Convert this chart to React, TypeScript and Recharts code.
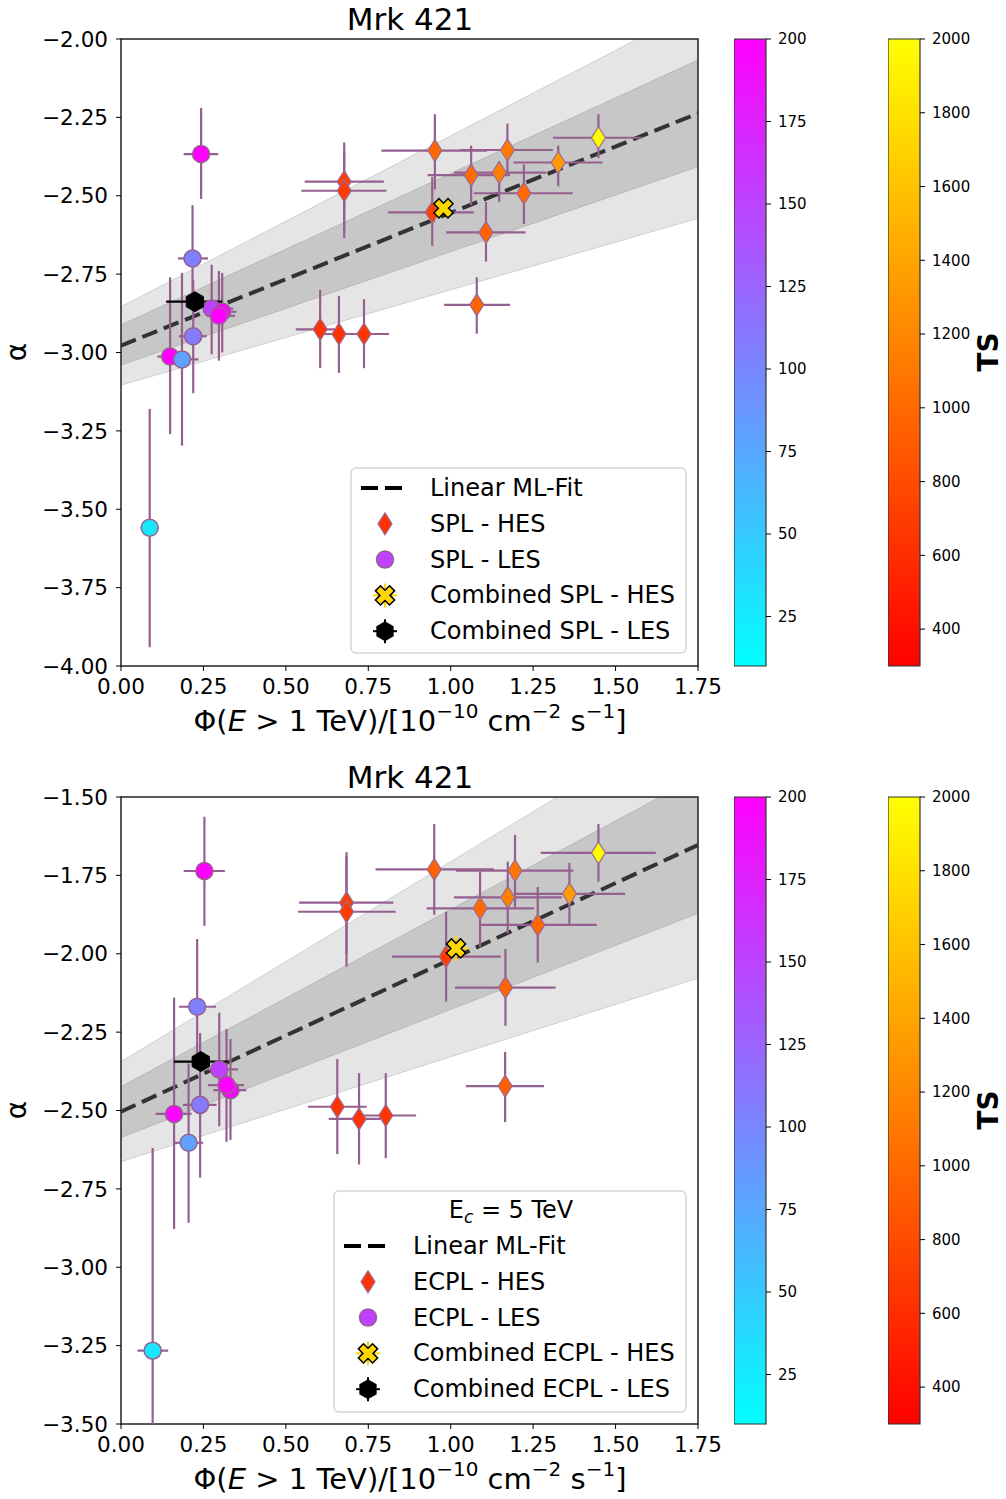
import React from "react";
import { ComposedChart, Scatter, ErrorBar, XAxis, YAxis, Area, Line, ReferenceArea } from "recharts";

const FONT = "DejaVu Sans";
const ERR = "#95608f";

const xTicks = [0, 0.25, 0.5, 0.75, 1, 1.25, 1.5, 1.75];
const splYTicks = [-4, -3.75, -3.5, -3.25, -3, -2.75, -2.5, -2.25, -2];
const ecplYTicks = [-3.5, -3.25, -3, -2.75, -2.5, -2.25, -2, -1.75, -1.5];
const lesTicks = [25, 50, 75, 100, 125, 150, 175, 200];
const hesTicks = [400, 600, 800, 1000, 1200, 1400, 1600, 1800, 2000];

// fit line and bands, values at x = 0 and x = 1.75
const fitX = [0, 1.75];
const splFit = [-2.978, -2.237];
const splBand1 = [[-3.04, -2.912], [-2.407, -2.067]];
const splBand2 = [[-3.104, -2.854], [-2.572, -1.9]];
const ecplFit = [-2.504, -1.653];
const ecplBand1 = [[-2.586, -2.424], [-1.871, -1.435]];
const ecplBand2 = [[-2.663, -2.344], [-2.078, -1.228]];

const splHes = [
  { x: 0.677, y: -2.455, xLo: 0.557, xHi: 0.797, yLo: -2.61, yHi: -2.33, ts: 720 },
  { x: 0.677, y: -2.484, xLo: 0.547, xHi: 0.805, yLo: -2.635, yHi: -2.36, ts: 700 },
  { x: 0.952, y: -2.356, xLo: 0.79, xHi: 1.11, yLo: -2.48, yHi: -2.24, ts: 990 },
  { x: 0.944, y: -2.553, xLo: 0.81, xHi: 1.07, yLo: -2.66, yHi: -2.44, ts: 730 },
  { x: 1.062, y: -2.434, xLo: 0.93, xHi: 1.18, yLo: -2.53, yHi: -2.34, ts: 1010 },
  { x: 1.147, y: -2.426, xLo: 1.01, xHi: 1.29, yLo: -2.52, yHi: -2.39, ts: 1150 },
  { x: 1.172, y: -2.354, xLo: 1.03, xHi: 1.31, yLo: -2.43, yHi: -2.27, ts: 1120 },
  { x: 1.222, y: -2.492, xLo: 1.07, xHi: 1.37, yLo: -2.59, yHi: -2.4, ts: 990 },
  { x: 1.107, y: -2.617, xLo: 0.986, xHi: 1.227, yLo: -2.71, yHi: -2.52, ts: 960 },
  { x: 1.326, y: -2.394, xLo: 1.19, xHi: 1.46, yLo: -2.47, yHi: -2.34, ts: 1330 },
  { x: 1.448, y: -2.315, xLo: 1.31, xHi: 1.58, yLo: -2.38, yHi: -2.24, ts: 1980 },
  { x: 1.079, y: -2.848, xLo: 0.98, xHi: 1.18, yLo: -2.94, yHi: -2.76, ts: 950 },
  { x: 0.604, y: -2.926, xLo: 0.53, xHi: 0.65, yLo: -3.05, yHi: -2.8, ts: 640 },
  { x: 0.661, y: -2.941, xLo: 0.6, xHi: 0.73, yLo: -3.065, yHi: -2.82, ts: 630 },
  { x: 0.737, y: -2.941, xLo: 0.66, xHi: 0.813, yLo: -3.05, yHi: -2.83, ts: 650 },
];

const splLes = [
  { x: 0.243, y: -2.367, xLo: 0.19, xHi: 0.295, yLo: -2.51, yHi: -2.22, ts: 200 },
  { x: 0.217, y: -2.7, xLo: 0.173, xHi: 0.264, yLo: -2.84, yHi: -2.53, ts: 105 },
  { x: 0.275, y: -2.86, xLo: 0.255, xHi: 0.34, yLo: -3.006, yHi: -2.72, ts: 152 },
  { x: 0.307, y: -2.87, xLo: 0.28, xHi: 0.35, yLo: -3.0, yHi: -2.746, ts: 195 },
  { x: 0.297, y: -2.883, xLo: 0.27, xHi: 0.346, yLo: -3.026, yHi: -2.74, ts: 200 },
  { x: 0.219, y: -2.948, xLo: 0.176, xHi: 0.26, yLo: -3.13, yHi: -2.77, ts: 108 },
  { x: 0.149, y: -3.013, xLo: 0.11, xHi: 0.18, yLo: -3.26, yHi: -2.76, ts: 200 },
  { x: 0.185, y: -3.022, xLo: 0.168, xHi: 0.235, yLo: -3.297, yHi: -2.746, ts: 80 },
  { x: 0.087, y: -3.559, xLo: 0.06, xHi: 0.115, yLo: -3.94, yHi: -3.18, ts: 28 },
];

const splCombHes = [{ x: 0.978, y: -2.54, xLo: 0.968, xHi: 0.988, yLo: -2.555, yHi: -2.525 }];
const splCombLes = [{ x: 0.224, y: -2.838, xLo: 0.137, xHi: 0.307, yLo: -2.85, yHi: -2.826 }];

const ecplHes = [
  { x: 0.684, y: -1.837, xLo: 0.54, xHi: 0.826, yLo: -2.0, yHi: -1.69, ts: 720 },
  { x: 0.684, y: -1.866, xLo: 0.537, xHi: 0.833, yLo: -2.041, yHi: -1.676, ts: 700 },
  { x: 0.95, y: -1.731, xLo: 0.772, xHi: 1.131, yLo: -1.876, yHi: -1.586, ts: 950 },
  { x: 0.986, y: -2.009, xLo: 0.822, xHi: 1.152, yLo: -2.153, yHi: -1.866, ts: 720 },
  { x: 1.089, y: -1.855, xLo: 0.927, xHi: 1.253, yLo: -1.978, yHi: -1.733, ts: 1000 },
  { x: 1.173, y: -1.82, xLo: 1.01, xHi: 1.337, yLo: -1.935, yHi: -1.706, ts: 1160 },
  { x: 1.195, y: -1.735, xLo: 1.016, xHi: 1.372, yLo: -1.852, yHi: -1.621, ts: 1080 },
  { x: 1.264, y: -1.908, xLo: 1.086, xHi: 1.443, yLo: -2.028, yHi: -1.787, ts: 980 },
  { x: 1.36, y: -1.809, xLo: 1.195, xHi: 1.529, yLo: -1.911, yHi: -1.71, ts: 1340 },
  { x: 1.448, y: -1.678, xLo: 1.273, xHi: 1.622, yLo: -1.77, yHi: -1.586, ts: 1990 },
  { x: 1.166, y: -2.108, xLo: 1.013, xHi: 1.318, yLo: -2.23, yHi: -1.985, ts: 970 },
  { x: 1.165, y: -2.422, xLo: 1.046, xHi: 1.283, yLo: -2.537, yHi: -2.313, ts: 930 },
  { x: 0.656, y: -2.488, xLo: 0.567, xHi: 0.745, yLo: -2.639, yHi: -2.336, ts: 640 },
  { x: 0.722, y: -2.527, xLo: 0.63, xHi: 0.79, yLo: -2.672, yHi: -2.381, ts: 630 },
  { x: 0.803, y: -2.516, xLo: 0.72, xHi: 0.895, yLo: -2.652, yHi: -2.381, ts: 650 },
];

const ecplLes = [
  { x: 0.253, y: -1.736, xLo: 0.19, xHi: 0.315, yLo: -1.911, yHi: -1.563, ts: 200 },
  { x: 0.231, y: -2.169, xLo: 0.176, xHi: 0.288, yLo: -2.35, yHi: -1.953, ts: 105 },
  { x: 0.298, y: -2.369, xLo: 0.265, xHi: 0.355, yLo: -2.55, yHi: -2.188, ts: 152 },
  { x: 0.332, y: -2.435, xLo: 0.28, xHi: 0.38, yLo: -2.594, yHi: -2.272, ts: 195 },
  { x: 0.32, y: -2.419, xLo: 0.264, xHi: 0.373, yLo: -2.6, yHi: -2.24, ts: 200 },
  { x: 0.161, y: -2.511, xLo: 0.105, xHi: 0.214, yLo: -2.878, yHi: -2.14, ts: 195 },
  { x: 0.205, y: -2.603, xLo: 0.161, xHi: 0.249, yLo: -2.858, yHi: -2.35, ts: 80 },
  { x: 0.24, y: -2.482, xLo: 0.188, xHi: 0.29, yLo: -2.714, yHi: -2.253, ts: 108 },
  { x: 0.096, y: -3.266, xLo: 0.05, xHi: 0.143, yLo: -3.5, yHi: -2.62, ts: 28 },
];

const ecplCombHes = [{ x: 1.016, y: -1.983, xLo: 0.978, xHi: 1.054, yLo: -2.023, yHi: -1.943 }];
const ecplCombLes = [{ x: 0.242, y: -2.344, xLo: 0.161, xHi: 0.324, yLo: -2.36, yHi: -2.328 }];

// colormaps (matplotlib cool / autumn)
const LES_MIN = 10, LES_MAX = 200, HES_MIN = 300, HES_MAX = 2000;
const clamp = (t: number) => Math.max(0, Math.min(1, t));
const cool = (v: number) => {
  const t = clamp((v - LES_MIN) / (LES_MAX - LES_MIN));
  return `rgb(${Math.round(255 * t)},${Math.round(255 * (1 - t))},255)`;
};
const autumn = (v: number) => {
  const t = clamp((v - HES_MIN) / (HES_MAX - HES_MIN));
  return `rgb(255,${Math.round(255 * t)},0)`;
};

const toRows = (pts: any[]) =>
  pts.map((p) => ({ ...p, ex: [p.x - p.xLo, p.xHi - p.x], ey: [p.y - p.yLo, p.yHi - p.y] }));

const fmt = (v: number) => v.toFixed(2).replace("-", "\u2212");

const diamondPts = (cx: number, cy: number) =>
  `${cx},${cy - 11} ${cx + 7},${cy} ${cx},${cy + 11} ${cx - 7},${cy}`;
const hexPts = (cx: number, cy: number, r = 10) =>
  [90, 150, 210, 270, 330, 30]
    .map((a) => `${cx + r * Math.cos((a * Math.PI) / 180)},${cy - r * Math.sin((a * Math.PI) / 180)}`)
    .join(" ");
const xPts = (cx: number, cy: number) => {
  const a = 10, t = 3.6;
  const base = [
    [t, -t], [t, -a], [-t, -a], [-t, -t], [-a, -t], [-a, t], [-t, t], [-t, a], [t, a], [t, t], [a, t], [a, -t],
  ];
  const c = Math.SQRT1_2;
  return base.map(([x, y]) => `${cx + (x - y) * c},${cy + (x + y) * c}`).join(" ");
};

const Diamond = (p: any) => (
  <polygon points={diamondPts(p.cx, p.cy)} fill={autumn(p.payload.ts)} stroke="#9a6a9a" strokeWidth={1.2} />
);
const Dot = (p: any) => <circle cx={p.cx} cy={p.cy} r={8.5} fill={cool(p.payload.ts)} stroke="#96608f" strokeWidth={1.5} />;
const Hex = (p: any) => <polygon points={hexPts(p.cx, p.cy)} fill="#000" stroke="#000" strokeWidth={1} />;
const XMark = (p: any) => <polygon points={xPts(p.cx, p.cy)} fill="#ffd700" stroke="#000" strokeWidth={1.5} />;

type LegendRow = { icon: string; label: string };

const Legend = ({ left, top, width, height, title, rows }: any) => {
  const first = title ? 55 : 20;
  return (
    <g>
      <rect x={left} y={top} width={width} height={height} rx={5} fill="#fff" fillOpacity={0.85} stroke="#d6d6d6" strokeWidth={1.5} />
      {title && (
        <text x={left + width / 2 + 1} y={top + 19} fontSize={24} textAnchor="middle" dominantBaseline="central">
          E
          <tspan fontSize={17} fontStyle="italic" dy={7}>c</tspan>
          <tspan dy={-7}> = 5 TeV</tspan>
        </text>
      )}
      {rows.map((r: LegendRow, i: number) => {
        const cy = top + first + i * 35.8;
        const cx = left + 34;
        let icon: any = null;
        if (r.icon === "line")
          icon = <line x1={cx - 24} x2={cx + 19} y1={cy} y2={cy} stroke="#000" strokeWidth={4} strokeDasharray="17 7" />;
        if (r.icon === "diamond")
          icon = <polygon points={diamondPts(cx, cy)} fill="rgb(255,51,0)" stroke="#9a6a9a" strokeWidth={1.2} />;
        if (r.icon === "circle")
          icon = <circle cx={cx} cy={cy} r={8.5} fill="rgb(191,64,255)" stroke="#96608f" strokeWidth={1.5} />;
        if (r.icon === "x")
          icon = (
            <g>
              <line x1={cx - 12} x2={cx + 12} y1={cy} y2={cy} stroke="#ffd700" strokeWidth={2} />
              <line x1={cx} x2={cx} y1={cy - 12} y2={cy + 12} stroke="#ffd700" strokeWidth={2} />
              <polygon points={xPts(cx, cy)} fill="#ffd700" stroke="#000" strokeWidth={1.5} />
            </g>
          );
        if (r.icon === "hex")
          icon = (
            <g>
              <line x1={cx - 12} x2={cx + 12} y1={cy} y2={cy} stroke="#000" strokeWidth={2} />
              <line x1={cx} x2={cx} y1={cy - 12} y2={cy + 12} stroke="#000" strokeWidth={2} />
              <polygon points={hexPts(cx, cy)} fill="#000" />
            </g>
          );
        return (
          <g key={i}>
            {icon}
            <text x={left + 79} y={cy} fontSize={24} dominantBaseline="central">
              {r.label}
            </text>
          </g>
        );
      })}
    </g>
  );
};

const ColorBar = ({ left, vmin, vmax, ticks, grad }: any) => (
  <div style={{ position: "absolute", left, top: 0 }}>
    <ComposedChart width={92} height={741} margin={{ top: 39, right: 0, bottom: 75, left: 0 }} data={[{ x: 0, v: vmin }, { x: 1, v: vmax }]}>
      <XAxis dataKey="x" type="number" domain={[0, 1]} hide />
      <YAxis
        orientation="right"
        type="number"
        dataKey="v"
        domain={[vmin, vmax]}
        ticks={ticks}
        allowDataOverflow
        width={60}
        axisLine={false}
        tickSize={5}
        tickMargin={7}
        tickLine={{ stroke: "#000" }}
        tick={{ fontSize: 15, fill: "#000", fontFamily: FONT }}
      />
      <ReferenceArea x1={0} x2={1} y1={vmin} y2={vmax} fill={`url(#${grad})`} fillOpacity={1} stroke="#333" strokeWidth={1.2} />
    </ComposedChart>
  </div>
);

const Panel = ({ top, yTicks, fit, band1, band2, hes, les, combHes, combLes, legend }: any) => {
  const yMin = yTicks[0], yMax = yTicks[yTicks.length - 1];
  const lineData = fitX.map((x, i) => ({ x, fit: fit[i], b1: band1[i], b2: band2[i] }));
  return (
    <div style={{ position: "absolute", left: 0, top, width: 1006, height: 741 }}>
      <ComposedChart width={1006} height={741} margin={{ top: 39, right: 308, bottom: 35, left: 40 }} data={lineData}>
        <XAxis
          dataKey="x"
          type="number"
          domain={[0, 1.75]}
          ticks={xTicks}
          allowDataOverflow
          height={40}
          axisLine={false}
          tickSize={5}
          tickMargin={8}
          tickLine={{ stroke: "#000" }}
          tickFormatter={fmt}
          tick={{ fontSize: 21.5, fill: "#000", fontFamily: FONT }}
        />
        <YAxis
          dataKey="y"
          type="number"
          domain={[yMin, yMax]}
          ticks={yTicks}
          allowDataOverflow
          width={81}
          axisLine={false}
          tickSize={5}
          tickMargin={8}
          tickLine={{ stroke: "#000" }}
          tickFormatter={fmt}
          tick={{ fontSize: 21.5, fill: "#000", fontFamily: FONT }}
        />
        <Area dataKey="b2" type="linear" fill="#e5e5e5" fillOpacity={1} stroke="#d0d0d0" strokeWidth={1} isAnimationActive={false} />
        <Area dataKey="b1" type="linear" fill="#c7c7c7" fillOpacity={1} stroke="#b8b8b8" strokeWidth={1} isAnimationActive={false} />
        <Line dataKey="fit" type="linear" stroke="#333" strokeWidth={4} strokeDasharray="16 7" dot={false} isAnimationActive={false} />
        <Scatter data={toRows(hes)} shape={Diamond} isAnimationActive={false}>
          <ErrorBar dataKey="ex" direction="x" width={0} stroke={ERR} strokeWidth={2.2} isAnimationActive={false} />
          <ErrorBar dataKey="ey" direction="y" width={0} stroke={ERR} strokeWidth={2.2} isAnimationActive={false} />
        </Scatter>
        <Scatter data={toRows(les)} shape={Dot} isAnimationActive={false}>
          <ErrorBar dataKey="ex" direction="x" width={0} stroke={ERR} strokeWidth={2.2} isAnimationActive={false} />
          <ErrorBar dataKey="ey" direction="y" width={0} stroke={ERR} strokeWidth={2.2} isAnimationActive={false} />
        </Scatter>
        <Scatter data={toRows(combHes)} shape={XMark} isAnimationActive={false}>
          <ErrorBar dataKey="ex" direction="x" width={0} stroke="#ffd700" strokeWidth={2.2} isAnimationActive={false} />
          <ErrorBar dataKey="ey" direction="y" width={0} stroke="#ffd700" strokeWidth={2.2} isAnimationActive={false} />
        </Scatter>
        <Scatter data={toRows(combLes)} shape={Hex} isAnimationActive={false}>
          <ErrorBar dataKey="ex" direction="x" width={0} stroke="#000" strokeWidth={2.2} isAnimationActive={false} />
          <ErrorBar dataKey="ey" direction="y" width={0} stroke="#000" strokeWidth={2.2} isAnimationActive={false} />
        </Scatter>
        <ReferenceArea x1={0} x2={1.75} y1={yMin} y2={yMax} fill="none" stroke="#222" strokeWidth={1.5} />
      </ComposedChart>
      <svg width={1006} height={741} style={{ position: "absolute", left: 0, top: 0, pointerEvents: "none", fontFamily: FONT }}>
        <text x={410} y={30} fontSize={31} textAnchor="middle">Mrk 421</text>
        <text transform="translate(26,352) rotate(-90)" fontSize={28} textAnchor="middle">α</text>
        <text x={410} y={731} fontSize={29} textAnchor="middle">
          Φ(<tspan fontStyle="italic">E</tspan> &gt; 1 TeV)/[10
          <tspan fontSize={20} dy={-13}>−10</tspan>
          <tspan dy={13}> cm</tspan>
          <tspan fontSize={20} dy={-13}>−2</tspan>
          <tspan dy={13}> s</tspan>
          <tspan fontSize={20} dy={-13}>−1</tspan>
          <tspan dy={13}>]</tspan>
        </text>
        <text transform="translate(998,352) rotate(-90)" fontSize={28} fontWeight="bold" textAnchor="middle">TS</text>
        <Legend {...legend} />
      </svg>
      <ColorBar left={734} vmin={LES_MIN} vmax={LES_MAX} ticks={lesTicks} grad="coolGrad" />
      <ColorBar left={888} vmin={HES_MIN} vmax={HES_MAX} ticks={hesTicks} grad="autumnGrad" />
    </div>
  );
};

export default function App() {
  return (
    <div style={{ position: "absolute", left: 0, top: 0, width: 1006, height: 1499, background: "#fff", fontFamily: FONT }}>
      <svg width={0} height={0} style={{ position: "absolute" }}>
        <defs>
          <linearGradient id="coolGrad" x1="0" y1="1" x2="0" y2="0">
            <stop offset="0%" stopColor="#00ffff" />
            <stop offset="100%" stopColor="#ff00ff" />
          </linearGradient>
          <linearGradient id="autumnGrad" x1="0" y1="1" x2="0" y2="0">
            <stop offset="0%" stopColor="#ff0000" />
            <stop offset="100%" stopColor="#ffff00" />
          </linearGradient>
        </defs>
      </svg>
      <Panel
        top={0}
        yTicks={splYTicks}
        fit={splFit}
        band1={splBand1}
        band2={splBand2}
        hes={splHes}
        les={splLes}
        combHes={splCombHes}
        combLes={splCombLes}
        legend={{
          left: 351,
          top: 468,
          width: 335,
          height: 185,
          rows: [
            { icon: "line", label: "Linear ML-Fit" },
            { icon: "diamond", label: "SPL - HES" },
            { icon: "circle", label: "SPL - LES" },
            { icon: "x", label: "Combined SPL - HES" },
            { icon: "hex", label: "Combined SPL - LES" },
          ],
        }}
      />
      <Panel
        top={758}
        yTicks={ecplYTicks}
        fit={ecplFit}
        band1={ecplBand1}
        band2={ecplBand2}
        hes={ecplHes}
        les={ecplLes}
        combHes={ecplCombHes}
        combLes={ecplCombLes}
        legend={{
          left: 334,
          top: 433,
          width: 352,
          height: 221,
          title: true,
          rows: [
            { icon: "line", label: "Linear ML-Fit" },
            { icon: "diamond", label: "ECPL - HES" },
            { icon: "circle", label: "ECPL - LES" },
            { icon: "x", label: "Combined ECPL - HES" },
            { icon: "hex", label: "Combined ECPL - LES" },
          ],
        }}
      />
    </div>
  );
}
